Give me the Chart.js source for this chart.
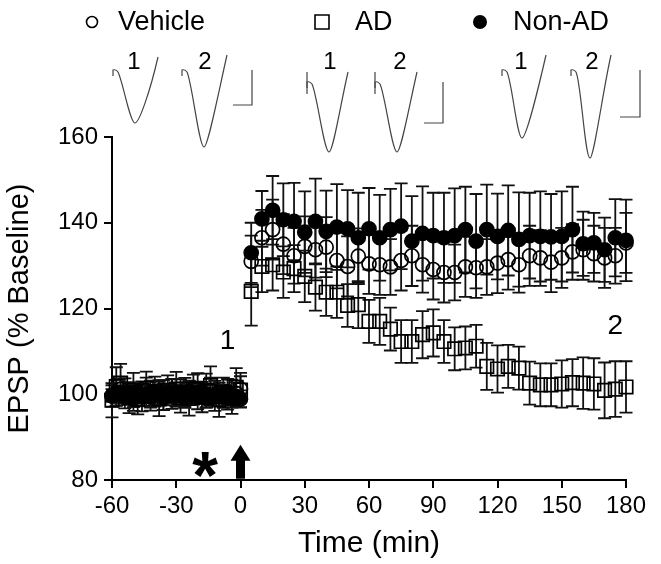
<!DOCTYPE html>
<html><head><meta charset="utf-8">
<script src="https://cdn.jsdelivr.net/npm/chart.js@4.4.1/dist/chart.umd.min.js"></script>
<style>html,body{margin:0;padding:0;background:#fff}#wrap{width:661px;height:564px;position:relative}</style>
</head><body><div id="wrap"><canvas id="c" width="661" height="564"></canvas></div>
<script>
// ---------- data ----------
const xTicks = [-60, -30, 0, 30, 60, 90, 120, 150, 180];
const yTicks = [80, 100, 120, 140, 160];
const seriesNames = ['Vehicle', 'AD', 'Non-AD'];

const baseTimes = [-60,-58,-56,-54,-52,-50,-48,-46,-44,-42,-40,-38,-36,-34,-32,-30,-28,-26,-24,-22,-20,-18,-16,-14,-12,-10,-8,-6,-4,-2,0];
const postTimes = [5,10,15,20,25,30,35,40,45,50,55,60,65,70,75,80,85,90,95,100,105,110,115,120,125,130,135,140,145,150,155,160,165,170,175,180];

const vehicleBase = [99.6,100.4,101.2,99.8,100.3,99.1,100.6,99.7,100.9,99.4,100.2,100.8,99.3,100.1,101.0,99.6,100.5,99.2,100.7,100.1,99.5,100.4,99.0,100.9,99.8,100.3,99.4,100.6,99.6,100.2,101.2];
const vehicleBaseErr = [2.5,3,2.5,2,2.5,3,2,2.5,3,2.5,2,2.5,3,2,2.5,2.5,3,2,2.5,2,3,2.5,2,3,2.5,2,2.5,3,2,2.5,3];
const vehiclePost = [131.0,136.5,138.4,135.0,132.3,134.5,133.7,134.3,131.2,129.8,132.2,130.4,130.2,129.7,131.2,132.3,130.2,129.1,128.4,128.4,129.7,129.5,129.7,130.6,131.4,130.2,132.3,131.8,130.8,131.8,133.2,133.7,132.8,131.8,132.3,135.3];
const vehiclePostErr = [6,6.5,7,7,6.5,7,6.5,7,6.5,7,6.5,7,7,6.5,7,7,6.5,7,7,6.5,7,7,6.5,7,7,6.5,7,6.5,7,7,6.5,7,6.5,7,6.5,7];

const adBase = [98.6,101.8,102.6,100.2,99.1,101.0,98.8,99.5,101.3,99.7,100.6,98.9,99.8,100.9,100.1,101.2,99.2,100.3,99.0,101.1,101.4,99.3,100.8,102.0,99.6,98.7,100.4,99.9,99.4,101.6,101.0];
const adBaseErr = [4,4.5,4.5,3.5,3.5,4,3.5,3.5,4,3.5,3.5,4,3.5,3.5,3.5,4,3.5,3.5,4,3.5,3.5,3.5,4,4.5,3.5,4,3.5,3.5,4,4.5,4];
const adPost = [124.0,129.8,130.2,128.5,129.3,127.5,125.0,123.8,123.8,120.7,120.9,117.0,117.0,115.2,112.3,112.3,113.9,114.3,112.3,110.6,110.8,111.2,106.5,105.9,106.5,106.1,102.6,102.2,102.2,102.4,102.7,102.6,102.4,100.9,101.2,101.7];
const adPostErr = [8,6,6,6,5.5,6,5.5,5.5,6,5,5.5,5,5.5,5,5,5,5.5,5.5,5,5,5,5,5.5,5.5,5,5,5,5,5,5.5,5.5,6,6,6.5,6.5,6];

const nonadBase = [99.7,100.0,100.4,99.5,100.2,99.6,100.5,99.3,99.9,100.4,99.7,100.1,99.4,99.8,100.3,100.2,99.6,100.0,99.5,99.9,100.4,99.7,100.1,99.2,99.8,99.4,99.6,99.9,98.9,99.3,98.9];
const nonadBaseErr = [1.5,2,1.5,1.5,2,1.5,1.5,2,1.5,1.5,2,1.5,1.5,2,1.5,1.5,2,1.5,1.5,2,1.5,1.5,2,1.5,1.5,2,1.5,1.5,2,1.5,2];
const nonadPost = [133.0,140.9,142.9,140.7,140.3,137.8,140.3,138.0,139.0,138.6,136.5,138.6,136.5,138.4,139.2,135.7,137.5,137.0,136.5,137.0,138.4,135.7,138.4,136.8,138.2,136.1,137.0,136.8,136.7,136.8,138.4,135.1,135.3,133.7,136.5,135.9];
const nonadPostErr = [7,6.5,8,8.5,9,9.5,10,9.5,10,9,10.5,9.5,10,9.5,10,10.5,11,10,10.5,11,10,11,10.5,10,10.5,11,10,10.5,10,10.5,10,7.5,7,7.5,9,9.5];

// ---------- helpers ----------
const times = baseTimes.concat(postTimes);
function pts(base, post){ const v = base.concat(post); return times.map((t,i)=>({x:t, y:v[i]})); }

const FONT = "'Liberation Sans', Arial, Helvetica, sans-serif";
Chart.defaults.font.family = FONT;
Chart.defaults.color = '#000';

const errorBarPlugin = {
  id: 'errbars',
  beforeDatasetsDraw(chart){
    const {ctx, scales:{x, y}} = chart;
    ctx.save();
    ctx.strokeStyle = '#111';
    ctx.lineWidth = 1.8;
    const cap = 6.5;
    for (let di = chart.data.datasets.length - 1; di >= 0; di--) {
      const ds = chart.data.datasets[di];
      ds.data.forEach((p, i) => {
        const e = ds.errors[i];
        const px = x.getPixelForValue(p.x);
        const yt = y.getPixelForValue(p.y + e), yb = y.getPixelForValue(p.y - e);
        ctx.beginPath();
        ctx.moveTo(px, yt); ctx.lineTo(px, yb);
        ctx.moveTo(px - cap, yt); ctx.lineTo(px + cap, yt);
        ctx.moveTo(px - cap, yb); ctx.lineTo(px + cap, yb);
        ctx.stroke();
      });
    }
    ctx.restore();
  }
};

// decorations: legend, inset traces, annotations
const legendLayout = [
  {name:'Vehicle', mx:92, tx:118, style:'circle', fill:false, r:5.5},
  {name:'AD', mx:322, tx:355, style:'rect', fill:false, r:7},
  {name:'Non-AD', mx:480, tx:513, style:'circle', fill:true, r:7}
];
const legendY = 22;

const traceGroups = [
  {traces:[[113,70,135,123,158,57],[182,70,204,147,227,55]], labels:[134,205], bar:[252,70,105,233], artifact:false},
  {traces:[[307,82,329,152,348,72],[375,82,397,152,417,72]], labels:[330,400], bar:[443,82,123,424], artifact:true},
  {traces:[[502,70,522,138,546,55],[571,70,590,158,611,55]], labels:[521,592], bar:[640,70,117,620], artifact:false}
];

const annotations = {
  label1: {t:-6, v:112.3, text:'1'},
  label2: {t:175, v:115.8, text:'2'},
  star: {t:-16.5, v:83.5},
  arrow: {t:0, vTip:88.2, vBase:80.3}
};

const decorPlugin = {
  id: 'decor',
  afterDraw(chart){
    const ctx = chart.ctx;
    const {x, y} = chart.scales;
    ctx.save();
    // legend
    ctx.font = '27px ' + FONT;
    ctx.textBaseline = 'middle';
    ctx.fillStyle = '#000';
    ctx.strokeStyle = '#000';
    legendLayout.forEach(it => {
      ctx.lineWidth = 1.6;
      ctx.beginPath();
      if (it.style === 'circle') ctx.arc(it.mx, legendY, it.r, 0, Math.PI*2);
      else ctx.rect(it.mx - it.r, legendY - it.r, it.r*2, it.r*2);
      if (it.fill) ctx.fill(); else ctx.stroke();
      ctx.textAlign = 'left';
      ctx.fillText(it.name, it.tx, legendY + 1);
    });
    // inset traces
    ctx.strokeStyle = '#444';
    ctx.lineWidth = 1.2;
    traceGroups.forEach(g => {
      g.traces.forEach(tr => {
        const [x0, yb, xm, ym, xe, ye] = tr;
        ctx.beginPath();
        ctx.moveTo(x0, yb + 6);
        ctx.lineTo(x0, yb);
        ctx.quadraticCurveTo(x0 + 3, yb - 1, x0 + 5, yb + 2);
        ctx.bezierCurveTo(x0 + 10, yb + 12, xm - 5, ym, xm, ym);
        ctx.bezierCurveTo(xm + 4, ym, xe - 8, ye + 35, xe, ye);
        ctx.stroke();
        if (g.artifact) {
          ctx.beginPath(); ctx.moveTo(x0, yb - 10); ctx.lineTo(x0, yb + 12); ctx.stroke();
        }
      });
      const [bx, by0, by1, bx0] = g.bar;
      ctx.beginPath(); ctx.moveTo(bx, by0); ctx.lineTo(bx, by1); ctx.lineTo(bx0, by1); ctx.stroke();
      ctx.font = '24px ' + FONT; ctx.textAlign = 'center';
      ctx.fillText('1', g.labels[0], 62);
      ctx.fillText('2', g.labels[1], 62);
    });
    // annotations in data space
    ctx.fillStyle = '#000';
    ctx.font = '28px ' + FONT; ctx.textAlign = 'center'; ctx.textBaseline = 'middle';
    [annotations.label1, annotations.label2].forEach(a => {
      ctx.fillText(a.text, x.getPixelForValue(a.t), y.getPixelForValue(a.v));
    });
    // asterisk
    ctx.font = 'bold 66px ' + FONT;
    ctx.textBaseline = 'alphabetic';
    const m = ctx.measureText('*');
    const sx = x.getPixelForValue(annotations.star.t), sy = y.getPixelForValue(annotations.star.v);
    const asc = m.actualBoundingBoxAscent, desc = m.actualBoundingBoxDescent;
    ctx.fillText('*', sx, sy + (asc - desc)/2);
    // arrow
    const ax = x.getPixelForValue(annotations.arrow.t);
    const ayTip = y.getPixelForValue(annotations.arrow.vTip), ayBase = y.getPixelForValue(annotations.arrow.vBase);
    const headH = 16, headW = 10, shaftW = 4.5;
    ctx.beginPath();
    ctx.moveTo(ax, ayTip);
    ctx.lineTo(ax + headW, ayTip + headH);
    ctx.lineTo(ax + shaftW, ayTip + headH);
    ctx.lineTo(ax + shaftW, ayBase);
    ctx.lineTo(ax - shaftW, ayBase);
    ctx.lineTo(ax - shaftW, ayTip + headH);
    ctx.lineTo(ax - headW, ayTip + headH);
    ctx.closePath();
    ctx.fill();
    ctx.restore();
  }
};

const ds = (label, data, errors, style, filled, r) => ({
  label, data, errors,
  pointStyle: style, pointRadius: r,
  pointBackgroundColor: filled ? '#000' : 'rgba(0,0,0,0)',
  pointBorderColor: '#000', pointBorderWidth: 1.7,
  showLine: false, clip: false
});

new Chart(document.getElementById('c'), {
  type: 'scatter',
  data: {
    datasets: [
      ds(seriesNames[0], pts(vehicleBase, vehiclePost), vehicleBaseErr.concat(vehiclePostErr), 'circle', false, 7),
      ds(seriesNames[2], pts(nonadBase, nonadPost), nonadBaseErr.concat(nonadPostErr), 'circle', true, 7),
      ds(seriesNames[1], pts(adBase, adPost), adBaseErr.concat(adPostErr), 'rect', false, 9.5)
    ]
  },
  options: {
    responsive: false, animation: false, events: [],
    layout: {padding: {left: 0, right: 35, top: 137, bottom: 0}},
    plugins: {legend: {display: false}, tooltip: {enabled: false}},
    scales: {
      x: {
        type: 'linear', min: xTicks[0], max: xTicks[xTicks.length-1],
        afterBuildTicks: s => { s.ticks = xTicks.map(v => ({value: v})); },
        afterFit: s => { s.height = 84; },
        ticks: {color: '#000', font: {size: 24}, padding: 4, maxRotation: 0, autoSkip: false},
        grid: {drawOnChartArea: false, drawTicks: true, tickLength: 8, color: '#000', lineWidth: 2},
        border: {display: true, color: '#000', width: 2},
        title: {display: true, text: 'Time (min)', color: '#000', font: {size: 30}, padding: {top: 2, bottom: 2}}
      },
      y: {
        type: 'linear', min: yTicks[0], max: yTicks[yTicks.length-1],
        afterBuildTicks: s => { s.ticks = yTicks.map(v => ({value: v})); },
        afterFit: s => { s.width = 112; },
        ticks: {color: '#000', font: {size: 24}, padding: 6, autoSkip: false},
        grid: {drawOnChartArea: false, drawTicks: true, tickLength: 8, color: '#000', lineWidth: 2},
        border: {display: true, color: '#000', width: 2},
        title: {display: true, text: 'EPSP (% Baseline)', color: '#000', font: {size: 29}, padding: {top: 3, bottom: 0}}
      }
    }
  },
  plugins: [errorBarPlugin, decorPlugin]
});
</script>
</body></html>
